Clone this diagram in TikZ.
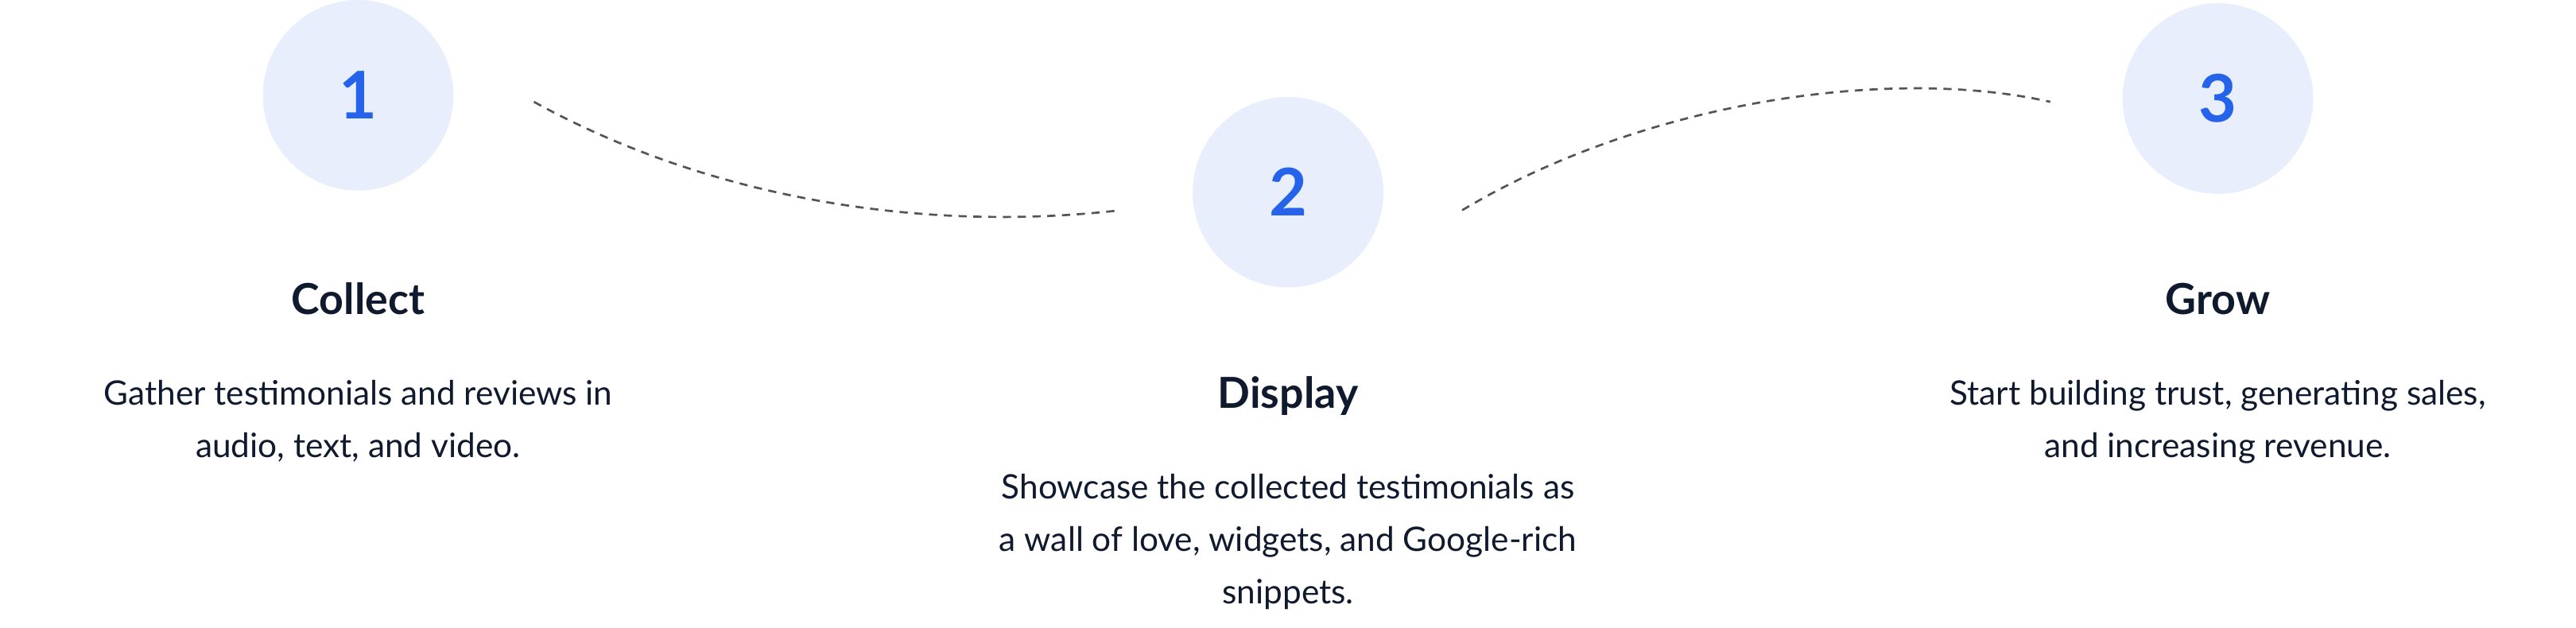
\documentclass[tikz,border=0pt]{standalone}
\usepackage{fontspec}
\setmainfont{Lato}
\definecolor{circ}{HTML}{E8EEFC}
\definecolor{num}{HTML}{2563EB}
\definecolor{navy}{HTML}{0F1A2E}
\definecolor{linkgray}{HTML}{555555}
\begin{document}
\begin{tikzpicture}[x=1pt,y=-1pt,
  stepcirc/.style={circle,fill=circ,minimum size=116pt,inner sep=0pt,text=num,font=\fontsize{40}{44}\selectfont\bfseries},
  title/.style={text=navy,font=\fontsize{26}{30}\selectfont\bfseries},
  body/.style={text=navy,align=center,font=\fontsize{20.5}{32}\selectfont},
  link/.style={draw=linkgray,dash pattern=on 5pt off 4pt,line width=1.3pt}]
\useasboundingbox (0,0) rectangle (1568,382);
\node[stepcirc] (c1) at (218,58) {1};
\node[stepcirc] (c2) at (784,117) {2};
\node[stepcirc] (c3) at (1350,60) {3};
\node[title] (t1) at (218,182) {Collect};
\node[title] (t2) at (784,241) {Display};
\node[title] (t3) at (1350,182) {Grow};
\node[body,anchor=north] (b1) at (218,228) {Gather testimonials and reviews in\\audio, text, and video.};
\node[body,anchor=north] (b2) at (784,285) {Showcase the collected testimonials as\\a wall of love, widgets, and Google-rich\\snippets.};
\node[body,anchor=north] (b3) at (1350,228) {Start building trust, generating sales,\\and increasing revenue.};
\coordinate (a1) at (325,62); \coordinate (a2) at (682,128);
\coordinate (d1) at (890,128); \coordinate (d2) at (1248,62);
\draw[link] (a1) .. controls (430,120) and (560,142) .. (a2);
\draw[link] (d1) .. controls (1000,62) and (1150,40) .. (d2);
\end{tikzpicture}
\end{document}
